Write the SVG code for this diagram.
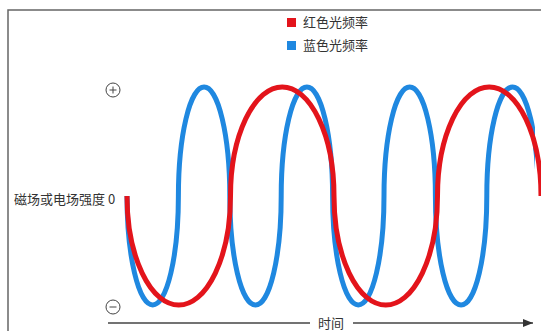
<svg xmlns="http://www.w3.org/2000/svg" width="541" height="331" viewBox="0 0 541 331">
<style>
.t{font-family:"Noto Sans CJK SC","Noto Sans",sans-serif;font-size:13px;fill:#333}
.wave{fill:none;stroke-width:5;stroke-linecap:butt}
.ax{fill:none;stroke:#444;stroke-width:1.4}
</style>
<defs>
<marker id="ah" viewBox="0 0 10 8" refX="10" refY="4" markerWidth="10" markerHeight="8" markerUnits="userSpaceOnUse" orient="auto">
<path d="M0,0 L10,4 L0,8 Z" fill="#333"/>
</marker>
<clipPath id="cb"><rect x="0" y="0" width="535" height="331"/></clipPath>
</defs>
<rect width="541" height="331" fill="#fff"/>
<path d="M8,331 V10 H541" fill="none" stroke="#666" stroke-width="1.5"/>
<g id="legend">
<rect x="287" y="18" width="9" height="9" fill="#e3141b"/>
<text class="t" x="303" y="27">红色光频率</text>
<rect x="287" y="41" width="9" height="9" fill="#1f88e0"/>
<text class="t" x="303" y="50">蓝色光频率</text>
</g>
<g id="yaxis">
<text class="t" x="14" y="204">磁场或电场强度 0</text>
<circle cx="113" cy="90" r="7" fill="none" stroke="#444" stroke-width="1"/>
<path d="M109.5,90 H116.5 M113,86.5 V93.5" stroke="#444" stroke-width="1"/>
<circle cx="113" cy="307" r="7" fill="none" stroke="#444" stroke-width="1"/>
<path d="M109.5,307 H116.5" stroke="#444" stroke-width="1"/>
</g>
<g id="blue-wave" clip-path="url(#cb)">
<path class="wave" stroke="#1f88e0" d="M127,196
a25.7,109 0 0 0 51.4,0 a25.7,109 0 0 1 51.4,0
a25.7,109 0 0 0 51.4,0 a25.7,109 0 0 1 51.4,0
a25.7,109 0 0 0 51.4,0 a25.7,109 0 0 1 51.4,0
a25.7,109 0 0 0 51.4,0 a25.7,109 0 0 1 51.4,0"/>
</g>
<g id="red-wave">
<path class="wave" stroke="#e3141b" d="M127,196
a51.75,109 0 0 0 103.5,0 a51.75,109 0 0 1 103.5,0
a51.75,109 0 0 0 103.5,0 a51.75,109 0 0 1 103.5,0"/>
</g>
<g id="connectors">
<path class="ax" d="M108,323 H310"/>
<path class="ax" d="M353,323 H533" marker-end="url(#ah)"/>
</g>
<text class="t" x="318" y="328">时间</text>
</svg>
